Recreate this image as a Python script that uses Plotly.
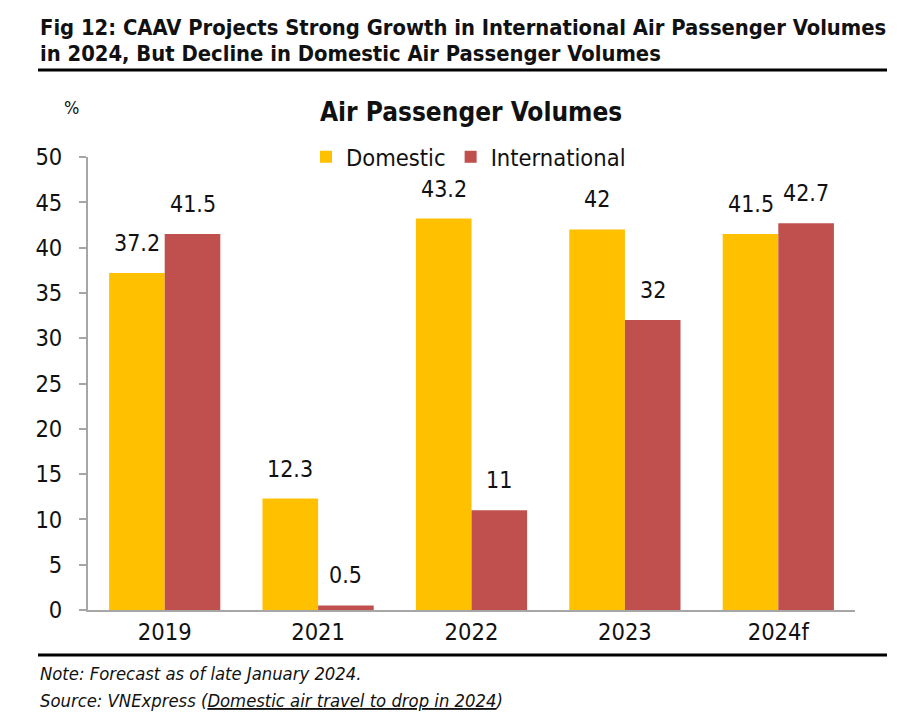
import plotly.graph_objects as go

categories = ["2019", "2021", "2022", "2023", "2024f"]
domestic = [37.2, 12.3, 43.2, 42, 41.5]
international = [41.5, 0.5, 11, 32, 42.7]
y_ticks = [0, 5, 10, 15, 20, 25, 30, 35, 40, 45, 50]

FONT = "DejaVu Sans Condensed, DejaVu Sans, sans-serif"
W, H = 921, 727
OFF = 8
L, R, T, B = 88 - OFF, 855 - OFF, 157 - OFF, 610 - OFF
BARGAP = 0.275

def px(x):
    return (x - OFF - L) / (R - L)

def py(y):
    return (B - (y - OFF)) / (B - T)

fig = go.Figure()
fig.add_trace(go.Bar(
    x=categories, y=domestic, name="Domestic",
    marker=dict(color="#FFC000", line=dict(width=0)),
))
fig.add_trace(go.Bar(
    x=categories, y=international, name="International",
    marker=dict(color="#C0504D", line=dict(width=0)),
))

# value labels above bars (x given as category index on the category axis)
bar_w = (1 - BARGAP) / 2  # in category units
for series, sign in ((domestic, -1), (international, 1)):
    for i, v in enumerate(series):
        fig.add_annotation(x=i + sign * bar_w / 2, y=v, text=f"{v:g}", showarrow=False,
                           xref="x", yref="y", xanchor="center", yanchor="bottom",
                           yshift=15,
                           font=dict(size=23, family=FONT, color="#111111"))

fig.update_layout(
    width=W, height=H,
    margin=dict(l=L, r=W - R, t=T, b=H - B, pad=0),
    paper_bgcolor="white", plot_bgcolor="white",
    barmode="group", bargap=BARGAP, bargroupgap=0,
    font=dict(family=FONT, color="#111111"),
    showlegend=True,
    legend=dict(orientation="h", x=px(306), y=py(157), xanchor="left", yanchor="middle",
                font=dict(size=23.5, family=FONT, color="#111111"),
                itemwidth=30, traceorder="normal",
                bgcolor="rgba(0,0,0,0)"),
    xaxis=dict(
        type="category", categoryorder="array", categoryarray=categories,
        range=[-0.5, len(categories) - 0.5],
        showline=True, linecolor="#A6A6A6", linewidth=2,
        ticks="", tickfont=dict(size=23.5, family=FONT, color="#111111"),
        showgrid=False,
    ),
    yaxis=dict(
        range=[0, 50], tickvals=y_ticks, showline=True, linecolor="#A6A6A6", linewidth=2,
        ticks="outside", ticklen=7, tickcolor="#A6A6A6", tickwidth=2,
        tickfont=dict(size=23.5, family=FONT, color="#111111"),
        showgrid=False, zeroline=False, ticklabelstandoff=12,
    ),
)

# Title block
fig.add_annotation(text="<b>Fig 12: CAAV Projects Strong Growth in International Air Passenger Volumes</b>",
                   xref="paper", yref="paper", x=px(38), y=py(27), xanchor="left", yanchor="middle",
                   showarrow=False, font=dict(size=21.8, family=FONT, color="#111111"))
fig.add_annotation(text="<b>in 2024, But Decline in Domestic Air Passenger Volumes</b>",
                   xref="paper", yref="paper", x=px(38), y=py(54), xanchor="left", yanchor="middle",
                   showarrow=False, font=dict(size=21.8, family=FONT, color="#111111"))
fig.add_shape(type="line", xref="paper", yref="paper", x0=px(38), x1=px(887), y0=py(70), y1=py(70),
              line=dict(color="black", width=3))
fig.add_annotation(text="<b>Air Passenger Volumes</b>", xref="paper", yref="paper",
                   x=px(471), y=py(112), xanchor="center", yanchor="middle", showarrow=False,
                   font=dict(size=26, family=FONT, color="#111111"))
fig.add_annotation(text="%", xref="paper", yref="paper", x=px(71), y=py(108),
                   xanchor="center", yanchor="middle", showarrow=False,
                   font=dict(size=18, family=FONT, color="#111111"))
# x-axis line stub extending left of the y-axis, as in the reference
fig.add_shape(type="line", xref="paper", yref="paper", x0=px(82), x1=0, y0=0, y1=0,
              line=dict(color="#A6A6A6", width=2))

# Footer
fig.add_shape(type="line", xref="paper", yref="paper", x0=px(38), x1=px(887), y0=py(655), y1=py(655),
              line=dict(color="black", width=3))
fig.add_annotation(text="<i>Note: Forecast as of late January 2024.</i>", xref="paper", yref="paper",
                   x=px(38), y=py(673), xanchor="left", yanchor="middle", showarrow=False,
                   font=dict(size=18.3, family=FONT, color="#111111"))
fig.add_annotation(text="<i>Source: VNExpress (<u>Domestic air travel to drop in 2024</u>)</i>",
                   xref="paper", yref="paper",
                   x=px(38), y=py(700), xanchor="left", yanchor="middle", showarrow=False,
                   font=dict(size=18.3, family=FONT, color="#111111"))

fig.write_html("out.html")
